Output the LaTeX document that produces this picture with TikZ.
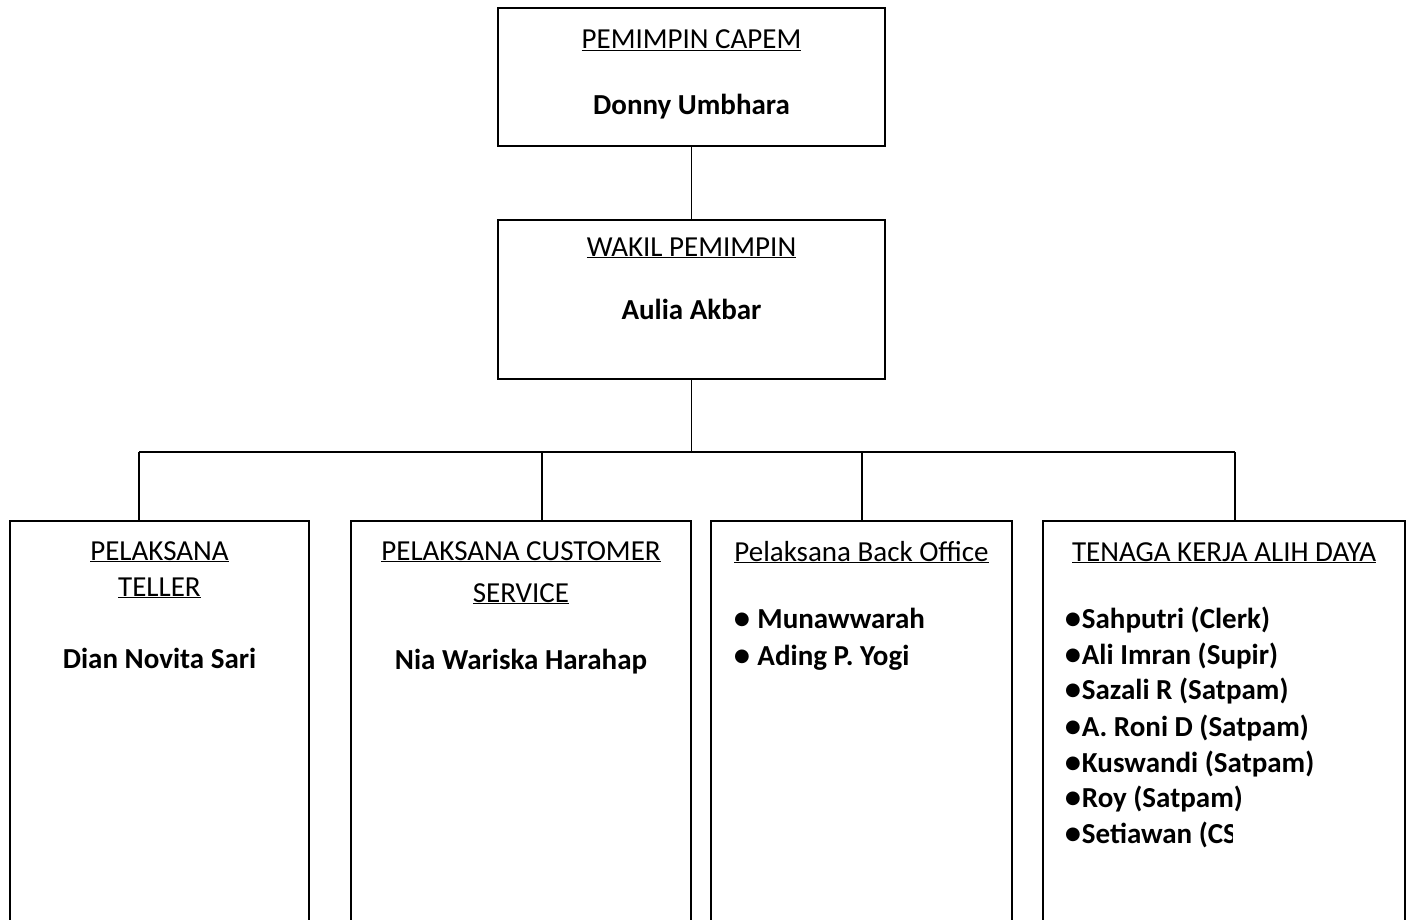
\documentclass[tikz,border=0pt]{standalone}
\usepackage{fontspec}
\setmainfont{Carlito}
\newfontfamily\symfont{DejaVu Sans}
\usetikzlibrary{positioning}
\newcommand{\bul}{\raisebox{3.5pt}{\symfont\fontsize{18}{18}\selectfont ●}\kern1pt}

\begin{document}
\begin{tikzpicture}[x=1pt, y=1pt,
  orgbox/.style={draw=black, line width=1.5pt, outer sep=0pt, inner sep=0pt},
  ttl/.style={font=\fontsize{29}{36}\selectfont, inner sep=0pt, anchor=base},
  nm/.style={font=\fontsize{29}{36}\selectfont\bfseries, inner sep=0pt, anchor=base},
  itm/.style={font=\fontsize{29}{36}\selectfont\bfseries, inner sep=0pt, anchor=base west},
  orgline/.style={line width=1.5pt}
]
\useasboundingbox (0,0) rectangle (1411,-920);
\clip (0,0) rectangle (1411,-920);
\node[orgbox, minimum width=387pt, minimum height=138pt] (pc) at (691.5,-77) {};
\node[orgbox, minimum width=387pt, minimum height=159pt, below=74pt of pc] (wp) {};
\node[orgbox, minimum width=299pt, minimum height=420pt] (tl) at (159.5,-731) {};
\node[orgbox, minimum width=340pt, minimum height=420pt, right=42pt of tl] (cs) {};
\node[orgbox, minimum width=301pt, minimum height=420pt, right=20pt of cs] (bo) {};
\node[orgbox, minimum width=362pt, minimum height=420pt, right=31pt of bo] (td) {};
% bus between levels
\coordinate (bus) at ([yshift=-73pt]wp.south);
\coordinate (d1) at (139,-452);
\coordinate (d2) at (542,-452);
\coordinate (d3) at (862,-452);
\coordinate (d4) at (1235,-452);
\draw[orgline] (pc) -- (wp);
\draw[orgline] (wp) -- (bus);
\draw[orgline] (d1) -- (d4);
\draw[orgline] (d1) -- (d1 |- tl.north);
\draw[orgline] (d2) -- (d2 |- cs.north);
\draw[orgline] (d3) -- (d3 |- bo.north);
\draw[orgline] (d4) -- (d4 |- td.north);
% texts
\node[ttl] (pct) at ([yshift=-41pt]pc.north) {\underline{PEMIMPIN CAPEM}};
\node[nm] (pcn) at ([yshift=-107pt]pc.north) {Donny Umbhara};
\node[ttl] (wpt) at ([yshift=-36pt]wp.north) {\underline{WAKIL PEMIMPIN}};
\node[nm] (wpn) at ([yshift=-99pt]wp.north) {Aulia Akbar};
\node[ttl] (tlt1) at ([yshift=-39pt]tl.north) {\underline{PELAKSANA}};
\node[ttl] (tlt2) at ([yshift=-75pt]tl.north) {\underline{TELLER}};
\node[nm] (tln) at ([yshift=-147pt]tl.north) {Dian Novita Sari};
\node[ttl] (cst1) at ([yshift=-39pt]cs.north) {\underline{PELAKSANA CUSTOMER}};
\node[ttl] (cst2) at ([yshift=-81pt]cs.north) {\underline{SERVICE}};
\node[nm] (csn) at ([yshift=-148pt]cs.north) {Nia Wariska Harahap};
\node[ttl] (bot) at ([yshift=-40pt]bo.north) {\underline{Pelaksana Back Office}};
\node[itm] (bo1) at ([xshift=23pt, yshift=-107pt]bo.north west) {\bul\ Munawwarah};
\node[itm] (bo2) at ([xshift=23pt, yshift=-144pt]bo.north west) {\bul\ Ading P. Yogi};
\node[ttl] (tdt) at ([yshift=-40pt]td.north) {\underline{TENAGA KERJA ALIH DAYA}};
\node[itm] (td1) at ([xshift=22pt, yshift=-107pt]td.north west) {\bul Sahputri (Clerk)};
\node[itm] (td2) at ([xshift=22pt, yshift=-143pt]td.north west) {\bul Ali Imran (Supir)};
\node[itm] (td3) at ([xshift=22pt, yshift=-178pt]td.north west) {\bul Sazali R (Satpam)};
\node[itm] (td4) at ([xshift=22pt, yshift=-215pt]td.north west) {\bul A. Roni D (Satpam)};
\node[itm] (td5) at ([xshift=22pt, yshift=-251pt]td.north west) {\bul Kuswandi (Satpam)};
\node[itm] (td6) at ([xshift=22pt, yshift=-286pt]td.north west) {\bul Roy (Satpam)};
\begin{scope}
\clip ([yshift=-290pt]td.north west) rectangle ([xshift=189pt, yshift=-340pt]td.north west);
\node[itm] (td7) at ([xshift=22pt, yshift=-322pt]td.north west) {\bul Setiawan (CS)};
\end{scope}
\end{tikzpicture}
\end{document}
